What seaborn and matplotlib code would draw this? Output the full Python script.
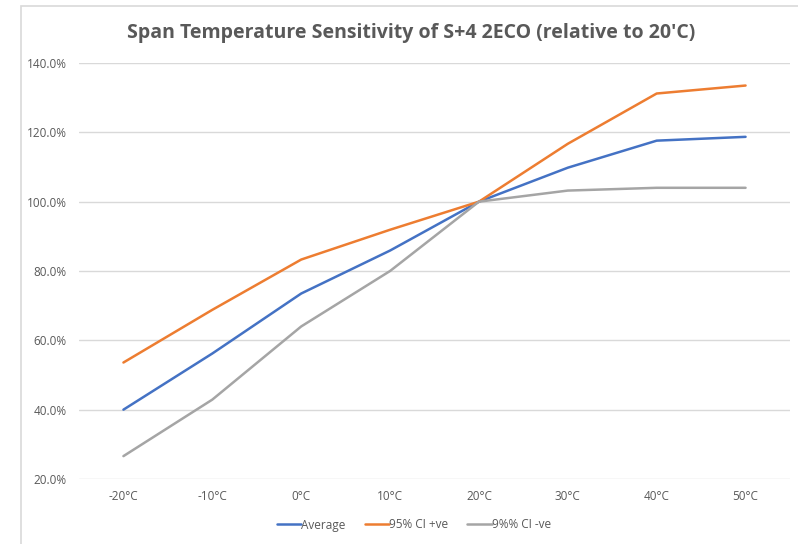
import pandas as pd
import matplotlib.pyplot as plt
import seaborn as sns
from matplotlib.ticker import FuncFormatter
from matplotlib.patches import Rectangle

# temperatures and the three series (% relative to 20'C)
temps = ['-20°C', '-10°C', '0°C', '10°C', '20°C', '30°C', '40°C', '50°C']
average = [40.0, 56.2, 73.5, 85.9, 100.0, 109.8, 117.6, 118.7]
ci_pos = [53.6, 68.8, 83.3, 91.9, 100.0, 116.7, 131.2, 133.5]
ci_neg = [26.6, 42.9, 64.0, 80.0, 100.0, 103.2, 104.0, 104.0]
series_names = ['Average', '95% CI +ve', '9%% CI -ve']

df = pd.DataFrame({'temp': temps, series_names[0]: average,
                   series_names[1]: ci_pos, series_names[2]: ci_neg})
long_df = df.melt(id_vars='temp', var_name='series', value_name='value')
long_df['x'] = long_df['temp'].map({t: i for i, t in enumerate(temps)})

sns.set_style('white')
plt.rcParams['font.family'] = ['Open Sans', 'DejaVu Sans']

fig = plt.figure(figsize=(7.98, 5.44), dpi=100)
ax = fig.add_axes([79 / 798, 1 - 479 / 544, (790 - 79) / 798, (479 - 63) / 544])

# chart border like the Excel chart area
fig.patches.append(Rectangle((21 / 798, -0.01), 1.0, 1 - 6 / 544 + 0.01,
                             transform=fig.transFigure, fill=False,
                             edgecolor='#d9d9d9', linewidth=1.2))

palette = {series_names[0]: '#4472C4', series_names[1]: '#ED7D31',
           series_names[2]: '#A5A5A5'}
sns.lineplot(data=long_df, x='x', y='value', hue='series', palette=palette,
             linewidth=1.8, ax=ax, legend=True)

ax.set_xlim(-0.5, len(temps) - 0.5)
ax.set_ylim(20, 140)
ax.set_yticks([20, 40, 60, 80, 100, 120, 140])
ax.yaxis.set_major_formatter(FuncFormatter(lambda v, p: f'{v:.1f}%'))
ax.set_xticks(range(len(temps)))
ax.set_xticklabels(temps)
ax.grid(axis='y', color='#d9d9d9', linewidth=1)
ax.set_axisbelow(True)
for s in ax.spines.values():
    s.set_visible(False)
ax.tick_params(axis='both', length=0, labelsize=8.5, labelcolor='#595959')
ax.tick_params(axis='y', pad=9)
ax.tick_params(axis='x', pad=8)
ax.set_xlabel('')
ax.set_ylabel('')

fig.text(411 / 798, 1 - 33 / 544, "Span Temperature Sensitivity of S+4 2ECO (relative to 20'C)",
         ha='center', va='center', fontsize=14, fontweight='bold', color='#595959')

handles, labels = ax.get_legend_handles_labels()
leg = ax.legend(handles, labels, loc='center', bbox_to_anchor=(414 / 798, 1 - 525 / 544),
                bbox_transform=fig.transFigure, ncol=3, frameon=False, fontsize=8.5,
                labelcolor='#595959', handlelength=2.1, handletextpad=0.0,
                columnspacing=1.6)
for line in leg.get_lines():
    line.set_linewidth(1.8)

fig.savefig('out.png', dpi=100)
